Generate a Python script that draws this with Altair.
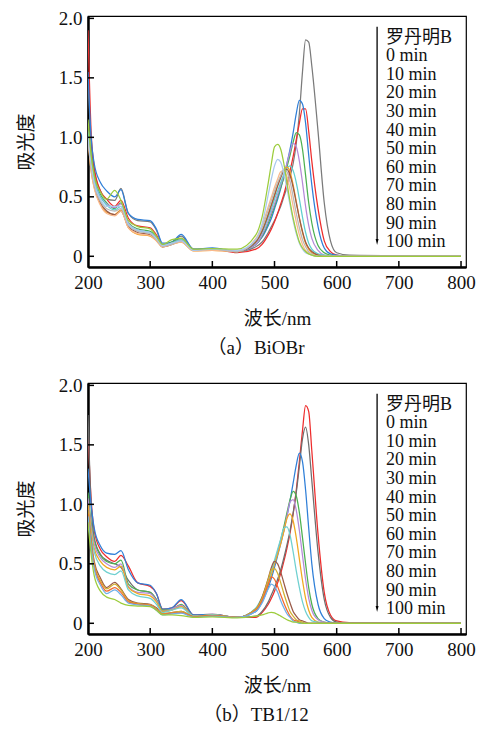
import altair as alt
import pandas as pd

FONT = "Liberation Serif, Noto Sans CJK SC"

WAVE = [200, 205, 210, 220, 230, 243, 253, 265, 280, 300, 310, 320, 335, 350, 370, 400, 440,
        470, 480, 490, 495, 500, 505, 510, 515, 520, 525, 530, 535, 540, 545, 550, 555, 560,
        570, 580, 590, 600, 620, 800]

NAMES = ["罗丹明B", "0 min", "10 min", "20 min", "30 min", "40 min", "50 min",
         "60 min", "70 min", "80 min", "90 min", "100 min"]

X_TICKS = [200, 300, 400, 500, 600, 700, 800]
Y_TICKS = [0, 0.5, 1.0, 1.5, 2.0]

# ---------------- panel (a) BiOBr ----------------
A_RHB = [1.50, 0.95, 0.72, 0.55, 0.48, 0.47, 0.57, 0.36, 0.30, 0.29, 0.22, 0.10, 0.12, 0.17, 0.06, 0.065, 0.04,
         0.08, 0.12, 0.20, 0.25, 0.30, 0.36, 0.42, 0.50, 0.58, 0.67, 0.78, 0.95, 1.20, 1.55, 1.82, 1.80, 1.60,
         1.05, 0.45, 0.13, 0.03, 0.01, 0.0]
A_0 = [1.90, 1.05, 0.75, 0.55, 0.48, 0.42, 0.47, 0.32, 0.255, 0.24, 0.18, 0.09, 0.11, 0.15, 0.05, 0.06, 0.03,
       0.06, 0.10, 0.18, 0.23, 0.29, 0.36, 0.44, 0.52, 0.62, 0.72, 0.84, 0.98, 1.12, 1.24, 1.24, 1.05, 0.80,
       0.40, 0.13, 0.04, 0.01, 0.0, 0.0]
A_10 = [1.55, 1.00, 0.78, 0.62, 0.55, 0.50, 0.56, 0.36, 0.31, 0.30, 0.23, 0.11, 0.12, 0.185, 0.06, 0.07, 0.04,
        0.10, 0.16, 0.26, 0.32, 0.40, 0.48, 0.57, 0.67, 0.78, 0.90, 1.04, 1.20, 1.31, 1.28, 1.12, 0.85, 0.60,
        0.25, 0.07, 0.02, 0.01, 0.0, 0.0]
A_20 = [1.10, 0.85, 0.68, 0.52, 0.45, 0.40, 0.45, 0.28, 0.23, 0.21, 0.16, 0.09, 0.12, 0.15, 0.05, 0.06, 0.04,
        0.10, 0.17, 0.28, 0.35, 0.42, 0.50, 0.58, 0.66, 0.75, 0.85, 0.96, 1.04, 1.02, 0.90, 0.68, 0.45, 0.28,
        0.09, 0.03, 0.01, 0.0, 0.0, 0.0]
A_30 = [1.05, 0.80, 0.65, 0.50, 0.44, 0.41, 0.44, 0.28, 0.22, 0.20, 0.15, 0.09, 0.11, 0.14, 0.05, 0.06, 0.04,
        0.10, 0.18, 0.30, 0.37, 0.44, 0.52, 0.60, 0.68, 0.78, 0.88, 0.95, 0.92, 0.80, 0.62, 0.42, 0.26, 0.15,
        0.05, 0.01, 0.0, 0.0, 0.0, 0.0]
A_40 = [1.05, 0.80, 0.64, 0.50, 0.43, 0.39, 0.42, 0.27, 0.22, 0.20, 0.15, 0.09, 0.11, 0.14, 0.05, 0.06, 0.04,
        0.12, 0.20, 0.33, 0.40, 0.48, 0.55, 0.62, 0.69, 0.74, 0.76, 0.72, 0.62, 0.48, 0.33, 0.20, 0.11, 0.06,
        0.02, 0.01, 0.0, 0.0, 0.0, 0.0]
A_50 = [1.00, 0.72, 0.58, 0.44, 0.37, 0.35, 0.39, 0.24, 0.185, 0.17, 0.13, 0.08, 0.10, 0.12, 0.045, 0.05, 0.04,
        0.13, 0.22, 0.36, 0.44, 0.52, 0.60, 0.67, 0.73, 0.75, 0.71, 0.60, 0.46, 0.32, 0.20, 0.11, 0.06, 0.03,
        0.01, 0.0, 0.0, 0.0, 0.0, 0.0]
A_60 = [1.00, 0.75, 0.60, 0.45, 0.38, 0.35, 0.38, 0.25, 0.20, 0.18, 0.14, 0.08, 0.10, 0.13, 0.05, 0.06, 0.04,
        0.12, 0.21, 0.35, 0.43, 0.51, 0.59, 0.66, 0.72, 0.73, 0.68, 0.58, 0.45, 0.32, 0.21, 0.12, 0.07, 0.04,
        0.01, 0.0, 0.0, 0.0, 0.0, 0.0]
A_70 = [0.98, 0.72, 0.57, 0.43, 0.36, 0.34, 0.38, 0.24, 0.19, 0.175, 0.13, 0.08, 0.10, 0.12, 0.045, 0.05, 0.04,
        0.15, 0.26, 0.42, 0.50, 0.58, 0.65, 0.71, 0.72, 0.67, 0.56, 0.42, 0.29, 0.18, 0.10, 0.05, 0.03, 0.01,
        0.0, 0.0, 0.0, 0.0, 0.0, 0.0]
A_80 = [1.00, 0.76, 0.60, 0.46, 0.40, 0.38, 0.40, 0.26, 0.21, 0.19, 0.14, 0.085, 0.10, 0.13, 0.05, 0.06, 0.04,
        0.14, 0.24, 0.39, 0.47, 0.55, 0.62, 0.68, 0.73, 0.71, 0.63, 0.50, 0.36, 0.24, 0.14, 0.08, 0.04, 0.02,
        0.0, 0.0, 0.0, 0.0, 0.0, 0.0]
A_90 = [1.00, 0.78, 0.62, 0.48, 0.42, 0.42, 0.42, 0.27, 0.22, 0.20, 0.15, 0.09, 0.11, 0.13, 0.05, 0.06, 0.05,
        0.14, 0.27, 0.52, 0.65, 0.76, 0.815, 0.79, 0.70, 0.57, 0.43, 0.30, 0.19, 0.11, 0.06, 0.03, 0.02, 0.01,
        0.0, 0.0, 0.0, 0.0, 0.0, 0.0]
A_100 = [1.15, 0.85, 0.68, 0.54, 0.48, 0.555, 0.47, 0.30, 0.25, 0.23, 0.17, 0.10, 0.14, 0.15, 0.06, 0.065, 0.06,
         0.18, 0.33, 0.62, 0.78, 0.92, 0.94, 0.90, 0.78, 0.62, 0.46, 0.32, 0.21, 0.12, 0.07, 0.04, 0.02, 0.01,
         0.0, 0.0, 0.0, 0.0, 0.0, 0.0]
A_SERIES = [A_RHB, A_0, A_10, A_20, A_30, A_40, A_50, A_60, A_70, A_80, A_90, A_100]
A_COLORS = ["#7a7a7a", "#ee2c2c", "#2f7fd8", "#4cb050", "#b58ad8", "#5fcfcf", "#f5a020",
            "#9a5a48", "#f9b98c", "#b8b8b8", "#a9c9ee", "#9ccc3c"]

# ---------------- panel (b) TB1/12 ----------------
B_RHB = [1.60, 1.05, 0.78, 0.62, 0.56, 0.52, 0.57, 0.48, 0.34, 0.31, 0.25, 0.12, 0.13, 0.19, 0.07, 0.075, 0.05,
         0.05, 0.09, 0.16, 0.21, 0.27, 0.34, 0.42, 0.52, 0.63, 0.76, 0.92, 1.12, 1.36, 1.62, 1.83, 1.78, 1.45,
         0.75, 0.26, 0.07, 0.02, 0.005, 0.0]
B_0 = [1.75, 1.00, 0.72, 0.58, 0.53, 0.50, 0.47, 0.36, 0.28, 0.26, 0.20, 0.10, 0.12, 0.15, 0.06, 0.07, 0.05,
       0.06, 0.10, 0.18, 0.24, 0.30, 0.37, 0.45, 0.55, 0.66, 0.78, 0.93, 1.10, 1.32, 1.55, 1.65, 1.50, 1.20,
       0.60, 0.20, 0.05, 0.01, 0.0, 0.0]
B_10 = [1.30, 1.00, 0.80, 0.65, 0.59, 0.58, 0.61, 0.45, 0.34, 0.32, 0.25, 0.12, 0.13, 0.20, 0.07, 0.075, 0.05,
        0.10, 0.18, 0.30, 0.38, 0.47, 0.57, 0.67, 0.78, 0.90, 1.03, 1.18, 1.33, 1.43, 1.36, 1.12, 0.80, 0.50,
        0.16, 0.04, 0.01, 0.0, 0.0, 0.0]
B_20 = [1.10, 0.85, 0.70, 0.57, 0.52, 0.50, 0.53, 0.33, 0.28, 0.26, 0.20, 0.11, 0.12, 0.16, 0.06, 0.07, 0.05,
        0.12, 0.20, 0.33, 0.41, 0.50, 0.60, 0.70, 0.81, 0.93, 1.04, 1.11, 1.07, 0.93, 0.72, 0.50, 0.30, 0.16,
        0.04, 0.01, 0.0, 0.0, 0.0, 0.0]
B_30 = [1.05, 0.82, 0.67, 0.55, 0.50, 0.47, 0.50, 0.31, 0.26, 0.25, 0.19, 0.10, 0.12, 0.15, 0.06, 0.07, 0.05,
        0.12, 0.20, 0.33, 0.41, 0.50, 0.59, 0.68, 0.78, 0.90, 1.02, 1.04, 0.95, 0.78, 0.57, 0.37, 0.21, 0.11,
        0.03, 0.01, 0.0, 0.0, 0.0, 0.0]
B_40 = [1.00, 0.78, 0.63, 0.52, 0.47, 0.45, 0.48, 0.30, 0.25, 0.23, 0.18, 0.10, 0.11, 0.14, 0.06, 0.07, 0.05,
        0.12, 0.20, 0.33, 0.41, 0.50, 0.58, 0.67, 0.77, 0.88, 0.92, 0.86, 0.72, 0.54, 0.36, 0.21, 0.11, 0.05,
        0.01, 0.0, 0.0, 0.0, 0.0, 0.0]
B_50 = [0.95, 0.74, 0.60, 0.48, 0.43, 0.41, 0.44, 0.28, 0.23, 0.21, 0.16, 0.09, 0.11, 0.13, 0.06, 0.07, 0.05,
        0.13, 0.22, 0.36, 0.44, 0.53, 0.62, 0.71, 0.80, 0.81, 0.74, 0.60, 0.44, 0.30, 0.18, 0.10, 0.05, 0.02,
        0.01, 0.0, 0.0, 0.0, 0.0, 0.0]
B_60 = [0.95, 0.70, 0.52, 0.38, 0.30, 0.345, 0.29, 0.20, 0.17, 0.16, 0.13, 0.08, 0.09, 0.10, 0.055, 0.065, 0.05,
        0.12, 0.22, 0.38, 0.47, 0.52, 0.50, 0.43, 0.34, 0.25, 0.17, 0.10, 0.06, 0.03, 0.02, 0.01, 0.0, 0.0,
        0.0, 0.0, 0.0, 0.0, 0.0, 0.0]
B_70 = [0.95, 0.68, 0.50, 0.36, 0.29, 0.33, 0.28, 0.19, 0.165, 0.155, 0.12, 0.08, 0.09, 0.10, 0.055, 0.065, 0.05,
        0.12, 0.21, 0.37, 0.45, 0.46, 0.42, 0.34, 0.25, 0.17, 0.10, 0.06, 0.03, 0.02, 0.01, 0.0, 0.0, 0.0,
        0.0, 0.0, 0.0, 0.0, 0.0, 0.0]
B_80 = [0.92, 0.66, 0.48, 0.34, 0.27, 0.30, 0.26, 0.18, 0.16, 0.15, 0.115, 0.075, 0.085, 0.09, 0.055, 0.065, 0.05,
        0.11, 0.19, 0.33, 0.39, 0.37, 0.31, 0.24, 0.17, 0.11, 0.06, 0.03, 0.02, 0.01, 0.0, 0.0, 0.0, 0.0,
        0.0, 0.0, 0.0, 0.0, 0.0, 0.0]
B_90 = [0.90, 0.64, 0.46, 0.32, 0.25, 0.28, 0.24, 0.17, 0.155, 0.145, 0.11, 0.07, 0.08, 0.085, 0.05, 0.06, 0.05,
        0.10, 0.17, 0.29, 0.33, 0.31, 0.26, 0.19, 0.13, 0.08, 0.05, 0.02, 0.01, 0.0, 0.0, 0.0, 0.0, 0.0,
        0.0, 0.0, 0.0, 0.0, 0.0, 0.0]
B_100 = [0.85, 0.58, 0.40, 0.27, 0.22, 0.20, 0.17, 0.15, 0.145, 0.14, 0.11, 0.07, 0.07, 0.065, 0.05, 0.055, 0.045,
         0.06, 0.07, 0.088, 0.092, 0.088, 0.075, 0.06, 0.045, 0.03, 0.02, 0.01, 0.01, 0.005, 0.0, 0.0, 0.0, 0.0,
         0.0, 0.0, 0.0, 0.0, 0.0, 0.0]
B_SERIES = [B_RHB, B_0, B_10, B_20, B_30, B_40, B_50, B_60, B_70, B_80, B_90, B_100]
B_COLORS = ["#ee2c2c", "#6e6e6e", "#2f7fd8", "#4cb050", "#b58ad8", "#f0a820", "#6fd0d0",
            "#9a5a48", "#d2b030", "#f26a30", "#6fb0e8", "#9ccc3c"]

# annotation arrow (data units)
ARROW_X = 665
ARROW_TOP = 1.93
ARROW_BOTTOM = 0.14
ARROW_HEAD = 0.12

W, H = 378, 251
XS = alt.Scale(domain=[200, 808], nice=False, zero=False)
YS = alt.Scale(domain=[-0.09, 2.02], nice=False, zero=False)

AX_X = alt.Axis(values=X_TICKS, title="波长/nm", tickSize=0, labelPadding=6, titlePadding=17,
                format="d", labelFlush=False, labelOverlap=False)
AX_Y = alt.Axis(values=Y_TICKS, title="吸光度", tickSize=0, labelPadding=6, titlePadding=22,
                labelFlush=False, labelOverlap=False,
                labelExpr="datum.value == 0 ? '0' : format(datum.value, '.1f')")


def panel(series, colors, caption):
    rows = []
    for k, (name, vals) in enumerate(zip(NAMES, series)):
        for w, v in zip(WAVE, vals):
            rows.append({"wave": w, "abs": v, "series": name, "k": k})
    df = pd.DataFrame(rows)

    lines = alt.Chart(df).mark_line(strokeWidth=1.25, interpolate="monotone", clip=True).encode(
        x=alt.X("wave:Q", scale=XS, axis=AX_X),
        y=alt.Y("abs:Q", scale=YS, axis=AX_Y),
        color=alt.Color("series:N", scale=alt.Scale(domain=NAMES, range=colors),
                        legend=alt.Legend(orient="none", legendX=280, legendY=12.5, title=None,
                                          symbolSize=0, symbolOpacity=0, symbolStrokeWidth=0,
                                          labelOffset=0, labelFont=FONT, labelFontSize=18,
                                          rowPadding=0.6, padding=0, labelColor="#111")),
        order="k:Q",
        detail="series:N",
    )

    yt = alt.Chart(pd.DataFrame({"abs": Y_TICKS})).mark_rule(color="black", strokeWidth=1.5).encode(
        y=alt.Y("abs:Q", scale=YS, axis=AX_Y), x=alt.value(0), x2=alt.value(6))
    xt = alt.Chart(pd.DataFrame({"wave": X_TICKS[1:]})).mark_rule(color="black", strokeWidth=1.5).encode(
        x=alt.X("wave:Q", scale=XS, axis=AX_X), y=alt.value(H), y2=alt.value(H - 6))

    adf = pd.DataFrame({"wave": [ARROW_X], "abs": [ARROW_TOP], "abs2": [ARROW_BOTTOM], "h": [ARROW_HEAD]})
    shaft = alt.Chart(adf).mark_rule(color="black", strokeWidth=1.3).encode(
        x=alt.X("wave:Q", scale=XS, axis=AX_X), y=alt.Y("abs:Q", scale=YS, axis=AX_Y), y2="abs2:Q")
    head = alt.Chart(adf).mark_point(shape="M -0.5 -1 L 0.5 -1 L 0 1 Z", filled=True, size=34,
                                     color="black", opacity=1).encode(
        x=alt.X("wave:Q", scale=XS, axis=AX_X), y=alt.Y("h:Q", scale=YS, axis=AX_Y))

    return alt.layer(lines, yt, xt, shaft, head).properties(
        width=W, height=H,
        title=alt.TitleParams(text=caption, orient="bottom", anchor="middle", dx=-21, offset=11,
                              font=FONT, fontSize=19, fontWeight="normal", color="#111"))


pa = panel(A_SERIES, A_COLORS, "（a）BiOBr")
pb = panel(B_SERIES, B_COLORS, "（b）TB1/12")

chart = alt.vconcat(pa, pb, spacing=16).resolve_scale(color="independent").properties(
    padding={"left": 8, "top": 0, "right": 0, "bottom": 0}
).configure_view(stroke="black", strokeWidth=1.2).configure_axis(
    labelFont=FONT, titleFont=FONT, labelFontSize=19, titleFontSize=19, titleFontWeight="normal",
    labelColor="#111", titleColor="#111", domainColor="black", domainWidth=2.5, grid=False
)

chart.save("out.html", embed_options={"renderer": "svg", "actions": False})
